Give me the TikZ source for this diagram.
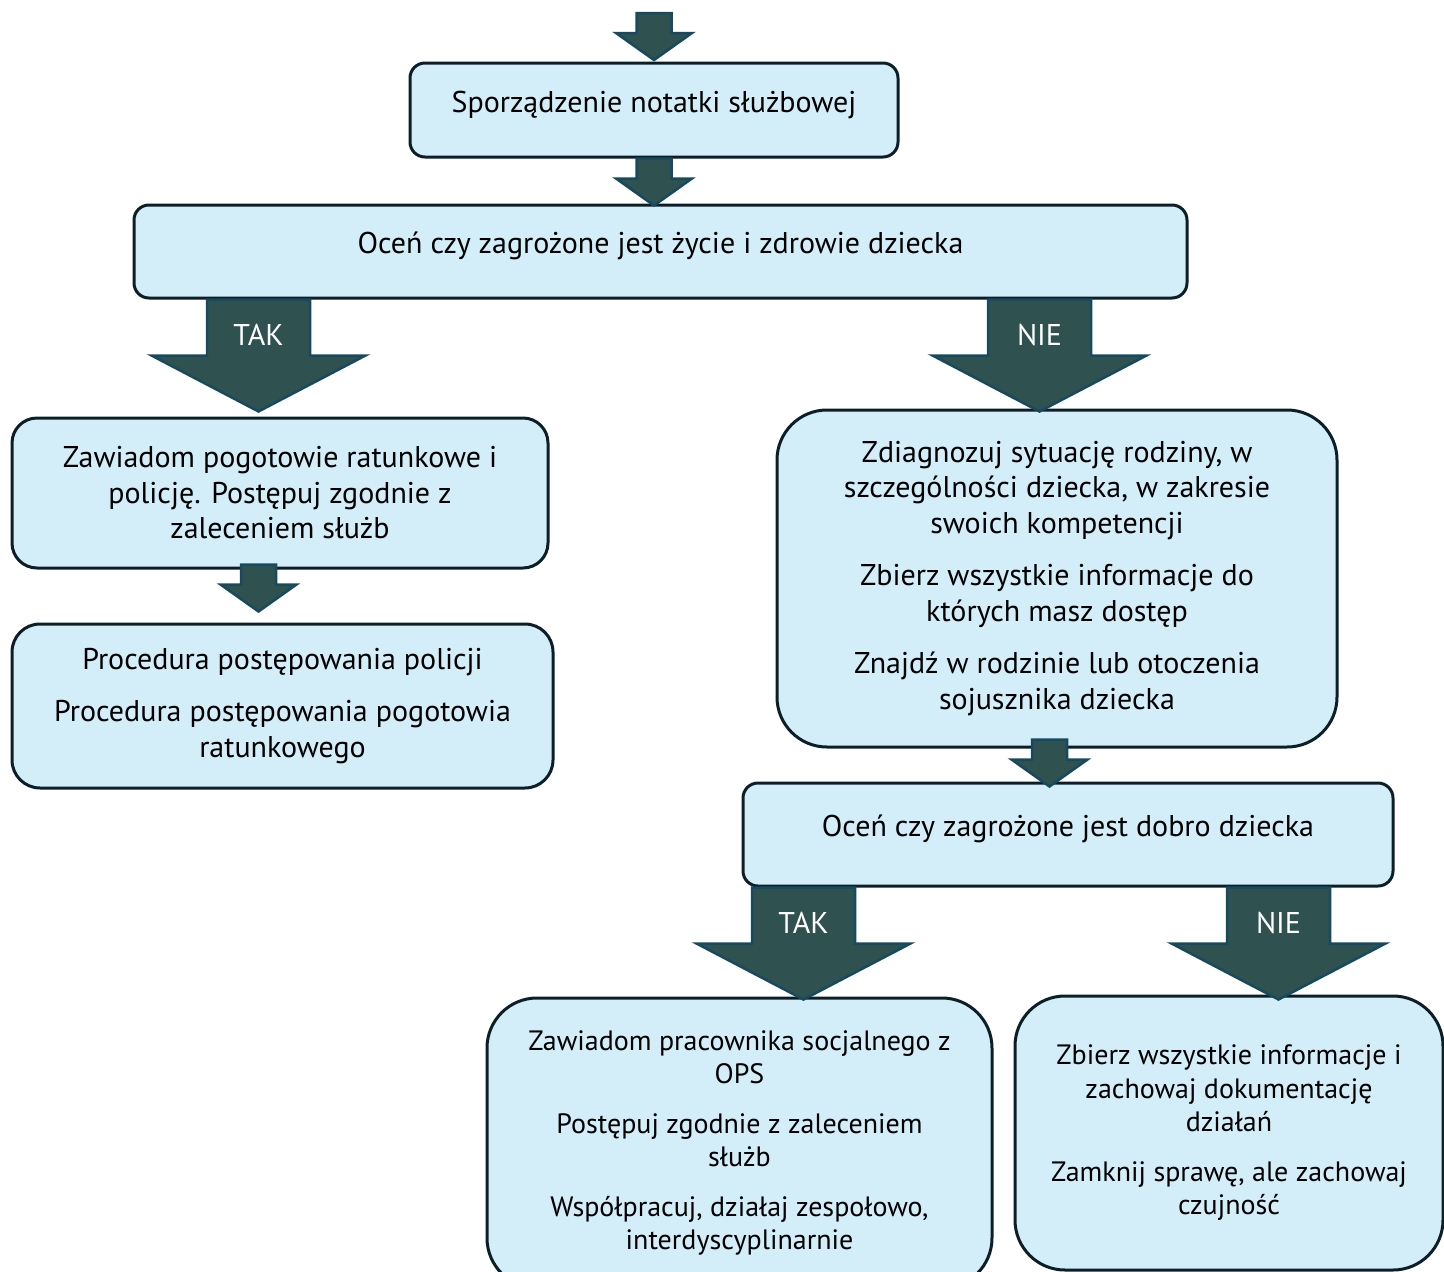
\documentclass[tikz,border=0pt]{standalone}
\usepackage{fontspec}
\setmainfont{PT Sans}
\usepackage{tikz}
\usepackage{xcolor}
\usetikzlibrary{calc}

\definecolor{boxfill}{HTML}{D3EEF9}
\definecolor{boxline}{HTML}{0D1F26}
\definecolor{arrowfill}{HTML}{2F5150}
\definecolor{arrowline}{HTML}{174A5E}

\tikzset{
    box/.style={draw=boxline, line width=3pt, fill=boxfill, rounded corners=15pt, align=center, inner sep=0pt},
    onebox/.style={box, text height=24pt, text depth=20pt},
    smallbox/.style={box, rounded corners=50pt, font=\fontsize{28}{33.5}\selectfont},
    arrowshape/.style={draw=arrowline, line width=2.5pt, fill=arrowfill, line join=miter},
    arrowtext/.style={text=white}
}

\newcommand{\smallarrow}[1]{%
    \begin{scope}[shift={(#1)}]
        \draw[arrowshape] (-17.5,0) -- (17.5,0) -- (17.5,20) -- (38,20) -- (0,47) -- (-38,20) -- (-17.5,20) -- cycle;
    \end{scope}}
\newcommand{\bigarrow}[3]{%
    \begin{scope}[shift={(#1)}]
        \draw[arrowshape] (-51.5,0) -- (51.5,0) -- (51.5,56) -- (107,56) -- (0,112) -- (-107,56) -- (-51.5,56) -- cycle;
        \node[arrowtext] (#2) at (0,35) {#3};
    \end{scope}}

\begin{document}
\begin{tikzpicture}[x=1pt, y=-1pt]
    \fontsize{30}{35.5}\selectfont
    \useasboundingbox (0,0) rectangle (1444,1272);
    \clip (0,0) rectangle (1444,1272);

    \node[onebox, minimum width=488pt, minimum height=94pt] (b1) at (654,110) {Sporządzenie notatki służbowej};
    \node[onebox, minimum width=1053pt, minimum height=93pt] (b2) at (660.5,251.5) {Oceń czy zagrożone jest życie i zdrowie dziecka};
    \node[box, rounded corners=25pt, minimum width=536pt, minimum height=150pt] (b3) at (280,493) {Zawiadom pogotowie ratunkowe i\\ policję. Postępuj zgodnie z\\ zaleceniem służb};
    \node[box, rounded corners=28pt, minimum width=541pt, minimum height=164pt] (b4) at (282.5,706) {Procedura postępowania policji\\[17pt] Procedura postępowania pogotowia\\ ratunkowego};
    \node[box, rounded corners=50pt, minimum width=560pt, minimum height=337pt] (b5) at (1057,578.5) {Zdiagnozuj sytuację rodziny, w\\ szczególności dziecka, w zakresie\\ swoich kompetencji\\[17pt] Zbierz wszystkie informacje do\\ których masz dostęp\\[17pt] Znajdź w rodzinie lub otoczenia\\ sojusznika dziecka};
    \node[onebox, minimum width=650pt, minimum height=103pt] (b6) at (1068,834.5) {Oceń czy zagrożone jest dobro dziecka};
    \node[smallbox, minimum width=505pt, minimum height=290pt] (b7) at (739.5,1143) {Zawiadom pracownika socjalnego z\\ OPS\\[16pt] Postępuj zgodnie z zaleceniem\\ służb\\[16pt] Współpracuj, działaj zespołowo,\\ interdyscyplinarnie};
    \node[smallbox, minimum width=428pt, minimum height=274pt] (b8) at (1229,1133) {Zbierz wszystkie informacje i\\ zachowaj dokumentację\\ działań\\[16pt] Zamknij sprawę, ale zachowaj\\ czujność};

    \coordinate (in) at (654,13);
    \smallarrow{in}
    \smallarrow{b1.south}
    \bigarrow{$(b2.south west)+(126,0)$}{tak1}{TAK}
    \bigarrow{$(b2.south east)+(-149,0)$}{nie1}{NIE}
    \smallarrow{$(b3.south west)+(248,-5)$}
    \smallarrow{$(b5.south west)+(274,-9)$}
    \bigarrow{$(b6.south west)+(62,0)$}{tak2}{TAK}
    \bigarrow{$(b6.south east)+(-116,0)$}{nie2}{NIE}
\end{tikzpicture}
\end{document}
